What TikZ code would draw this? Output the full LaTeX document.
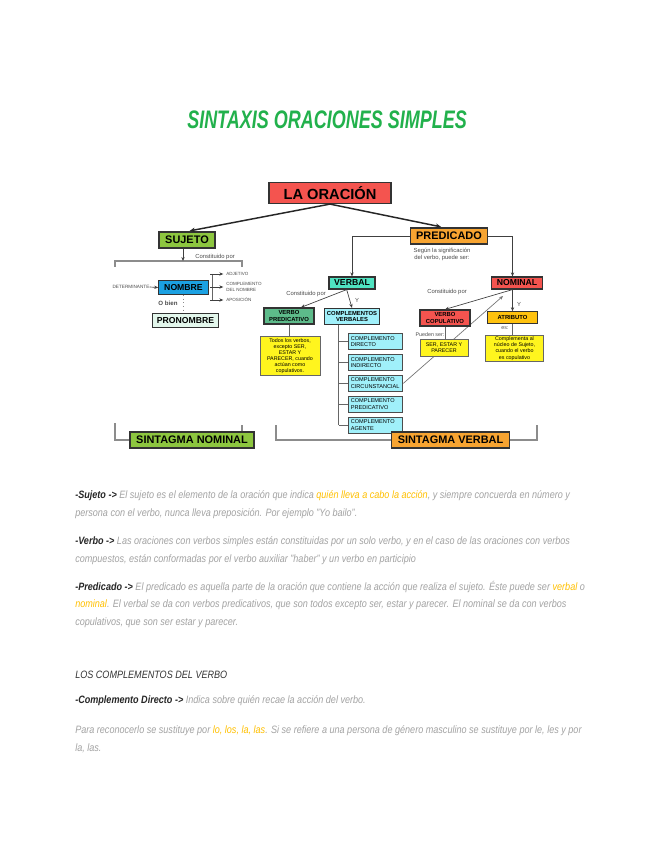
\documentclass[tikz,border=0pt]{standalone}
\usepackage{fontspec}
\setmainfont{Liberation Sans}
\setsansfont{Liberation Sans}
\usepackage{graphicx}
\usepackage{xcolor}
\usetikzlibrary{positioning,arrows.meta,calc,backgrounds}
\definecolor{rojo}{HTML}{F4544F}
\definecolor{naranja}{HTML}{F7A431}
\definecolor{lima}{HTML}{8DC63F}
\definecolor{aqua}{HTML}{4FE3C1}
\definecolor{verdemedio}{HTML}{5DBB8A}
\definecolor{celeste}{HTML}{A0F0FA}
\definecolor{amarillo}{HTML}{FFF51E}
\definecolor{azul}{HTML}{1BA1E2}
\definecolor{dorado}{HTML}{FFC20E}
\definecolor{menta}{HTML}{E3F7EC}
\definecolor{verdetit}{HTML}{22B14C}
\definecolor{gristexto}{HTML}{A3A3A3}
\definecolor{resalte}{HTML}{FFC000}
\newcommand{\tam}[2]{\fontsize{#1}{#2}\selectfont}
\newcommand{\estrecho}[2]{\scalebox{#1}[1]{#2}}
\newcommand{\mano}[1]{\estrecho{0.85}{#1}}
\newcommand{\resalta}[1]{\textcolor{resalte}{#1}}
\newcommand{\cabeza}[1]{\textcolor{black!85}{\bfseries #1}}
\tikzset{
  caja/.style    = {rectangle, draw=black!80, line width=0.9pt, align=center,
                    inner sep=1pt},
  raiz/.style    = {caja, fill=rojo, minimum width=91.5pt, minimum height=15.75pt,
                    font=\bfseries\tam{11}{13}},
  grande/.style  = {caja, minimum height=12pt, font=\bfseries\tam{8.2}{10}},
  medio/.style   = {caja, minimum height=9.5pt, font=\bfseries\tam{6.5}{8}},
  chico/.style   = {caja, minimum height=12pt, font=\bfseries\tam{4.4}{5}},
  comp/.style    = {rectangle, draw=black!70, line width=0.7pt, fill=celeste,
                    align=left, inner sep=1pt, font=\tam{4.2}{5},
                    minimum width=41pt, text width=37pt, minimum height=12pt},
  nota/.style    = {rectangle, draw=black!60, line width=0.6pt, fill=amarillo,
                    align=center, inner sep=1pt, font=\tam{4}{4.6}},
  etiq/.style    = {font=\tam{4.4}{5.2}, text=black!70, align=center, inner sep=0pt},
  titulo/.style  = {font=\bfseries\itshape\tam{19}{22}, text=verdetit, inner sep=0pt},
  parrafo/.style = {anchor=west, inner sep=0pt, text=gristexto, font=\itshape\tam{8}{9.5}},
  flecha/.style  = {-{Stealth[length=3pt,width=2.5pt]}, draw=black!75, line width=0.5pt},
  grueso/.style  = {-{Stealth[length=4pt,width=3.5pt]}, draw=black!85, line width=1.1pt},
  linea/.style   = {draw=black!60, line width=0.6pt},
  llave/.style   = {draw=black!45, line width=0.8pt},
}

\begin{document}
\begin{tikzpicture}[x=0.75pt, y=-0.75pt]
  \useasboundingbox (0,0) rectangle (655,848);

  \node[titulo] (tit) at (327,120) {\estrecho{0.71}{SINTAXIS ORACIONES SIMPLES}};

  % esquema de la oracion
  \node[raiz] (oracion) at (330,193) {LA ORACIÓN};
  \node[grande, fill=lima, minimum width=42pt] (sujeto) at (187,240) {SUJETO};
  \node[grande, fill=naranja, minimum width=58pt] (predicado) at (449,236) {PREDICADO};
  \node[medio, fill=aqua, minimum width=34.5pt, minimum height=9pt] (verbal) at (352,283) {VERBAL};
  \node[medio, fill=rojo, minimum width=38pt, minimum height=9pt] (nominal) at (517,283) {NOMINAL};
  \node[chico, fill=verdemedio, minimum width=37.5pt] (vpred) at (289,316) {VERBO\\PREDICATIVO};
  \node[chico, fill=celeste, minimum width=41pt] (cverb) at (352,316.5) {COMPLEMENTOS\\VERBALES};
  \node[chico, fill=rojo, minimum width=37.5pt] (vcop) at (445,318) {VERBO\\COPULATIVO};
  \node[chico, fill=dorado, minimum width=37pt, minimum height=8.5pt] (atrib) at (512.5,317.5) {ATRIBUTO};

  \node[nota, minimum width=45pt, minimum height=28.5pt] (todos) at (290,356)
    {Todos los verbos,\\excepto SER,\\ESTAR Y\\PARECER, cuando\\actúan como\\copulativos.};
  \node[nota, minimum width=36pt, minimum height=12.75pt] (ser) at (444,347.5) {SER, ESTAR Y\\PARECER};
  \node[nota, minimum width=44pt, minimum height=20pt] (compl) at (514.5,348.5)
    {Complementa al\\núcleo de Sujeto,\\cuando el verbo\\es copulativo};

  \node[comp] (cd) at (375.5,341.5) {COMPLEMENTO\\DIRECTO};
  \node[comp, below=3pt of cd] (ci) {COMPLEMENTO\\INDIRECTO};
  \node[comp, below=3pt of ci] (cc) {COMPLEMENTO\\CIRCUNSTANCIAL};
  \node[comp, below=3pt of cc] (cp) {COMPLEMENTO\\PREDICATIVO};
  \node[comp, below=3pt of cp] (ca) {COMPLEMENTO\\AGENTE};

  \node[medio, fill=azul, minimum width=37pt, minimum height=10pt] (nombre) at (183.5,287.5) {NOMBRE};
  \node[medio, fill=menta, minimum width=50pt, minimum height=10pt] (pronombre) at (185.5,320.5) {PRONOMBRE};
  \node[grande, fill=lima, minimum width=93pt] (sn) at (192,440) {SINTAGMA NOMINAL};
  \node[grande, fill=naranja, minimum width=88pt] (sv) at (450.5,440) {SINTAGMA VERBAL};

  % etiquetas
  \node[etiq] (const1) at (215,257) {Constituido por};
  \node[etiq, font=\tam{3.5}{4}] (det) at (131,287) {DETERMINANTE};
  \node[etiq, anchor=west, align=left, font=\tam{3.4}{3.9}] (adj) at (226,274) {ADJETIVO};
  \node[etiq, anchor=west, align=left, font=\tam{3.4}{3.9}] (cdn) at (226,287) {COMPLEMENTO\\DEL NOMBRE};
  \node[etiq, anchor=west, align=left, font=\tam{3.4}{3.9}] (apos) at (226,300) {APOSICIÓN};
  \node[etiq, font=\bfseries\tam{4.6}{5}] (obien) at (168,303) {O bien};
  \node[etiq] (segun) at (442,254) {Según la significación\\del verbo, puede ser:};
  \node[etiq] (const2) at (306,294) {Constituido por};
  \node[etiq] (y1) at (357,300) {Y};
  \node[etiq] (const3) at (447,292) {Constituido por};
  \node[etiq] (y2) at (519,304) {Y};
  \node[etiq, font=\tam{4}{4.6}] (pueden) at (430,335) {Pueden ser:};
  \node[etiq, font=\tam{4}{4.6}] (es) at (505,328) {es:};

  % conectores
  \draw[grueso, shorten >=2pt] (oracion.south) -- (sujeto.north);
  \draw[grueso, shorten >=2pt] (oracion.south) -- ([xshift=-4pt]predicado.north);
  \draw[flecha] (predicado.west) -| (verbal.north);
  \draw[flecha] (predicado.east) -| (atrib.north |- nominal.north);
  \draw[flecha] ([xshift=-4pt]verbal.south) -- ([xshift=9pt]vpred.north);
  \draw[flecha] ([xshift=-4pt]verbal.south) -- (cverb.north);
  \draw[linea] (vpred.south) -- (vpred.south |- todos.north);
  \coordinate (espina) at ([xshift=11pt]cverb.south west);
  \draw[linea] (espina) -- (espina |- ca.west);
  \foreach \c in {cd,ci,cc,cp,ca}
    \draw[linea] (espina |- \c.west) -- (\c.west);
  \coordinate (nombase) at (atrib.north |- nominal.south);
  \draw[flecha] (nombase) -- (vcop.north);
  \draw[flecha] (nombase) -- (atrib.north);
  \draw[linea] (vcop.south) -- (vcop.south |- ser.north);
  \draw[linea] (atrib.south) -- (atrib.south |- compl.north);

  \coordinate (llaveT) at (183,261);
  \coordinate (llaveI) at (115,267);
  \coordinate (llaveD) at (242,267);
  \draw[llave] (llaveI) -- ++(0,-6) -| (llaveD);
  \draw[flecha] ([xshift=-3pt]sujeto.south) -- ([xshift=-3pt]sujeto.south |- llaveT);
  \draw[flecha] (det.east) -- (nombre.west);
  \coordinate (rama) at (212,287);
  \draw[linea] (rama |- adj.west) -- (rama |- apos.west);
  \foreach \r in {adj,cdn,apos}
    \draw[flecha] ([xshift=-1.5pt]rama |- \r.west) -- ([xshift=-2pt]\r.west);
  \draw[llave, dotted] (nombre.south) -- (nombre.south |- pronombre.north);

  \coordinate (snI) at (115,423);
  \coordinate (snD) at (242,425);
  \coordinate (svI) at (276,425);
  \coordinate (svD) at (537,425);
  \draw[llave] (snI) |- (sn.west);
  \draw[llave] (snD) -- (snD |- sn.north);
  \draw[llave] (svI) |- (sv.west);
  \draw[llave] (sv.east) -| (svD);

  \coordinate (cola) at (503,296);
  \begin{scope}[on background layer]
    \fill[white] (0,0) rectangle (655,848);
    \draw[flecha, draw=black!55] (cc.east) -- (cola);
  \end{scope}

  % texto
  \node[parrafo] (p1) at (75,496) {\mano{\cabeza{-Sujeto ->} El sujeto es el elemento de la oración que indica \resalta{quién lleva a cabo la acción}, y siempre concuerda en número y}};
  \node[parrafo] (p2) at (75,514) {\mano{persona con el verbo, nunca lleva preposición. Por ejemplo "Yo bailo".}};
  \node[parrafo] (p3) at (75,542) {\mano{\cabeza{-Verbo ->} Las oraciones con verbos simples están constituidas por un solo verbo, y en el caso de las oraciones con verbos}};
  \node[parrafo] (p4) at (75,560) {\mano{compuestos, están conformadas por el verbo auxiliar "haber" y un verbo en participio}};
  \node[parrafo] (p5) at (75,587) {\mano{\cabeza{-Predicado ->} El predicado es aquella parte de la oración que contiene la acción que realiza el sujeto. Éste puede ser \resalta{verbal} o}};
  \node[parrafo] (p6) at (75,605) {\mano{\resalta{nominal}. El verbal se da con verbos predicativos, que son todos excepto ser, estar y parecer. El nominal se da con verbos}};
  \node[parrafo] (p7) at (75,623) {\mano{copulativos, que son ser estar y parecer.}};
  \node[parrafo, text=black!80] (p8) at (75,675) {\mano{LOS COMPLEMENTOS DEL VERBO}};
  \node[parrafo] (p9) at (75,701) {\mano{\cabeza{-Complemento Directo ->} Indica sobre quién recae la acción del verbo.}};
  \node[parrafo] (p10) at (75,731) {\mano{Para reconocerlo se sustituye por \resalta{lo, los, la, las}. Si se refiere a una persona de género masculino se sustituye por le, les y por}};
  \node[parrafo] (p11) at (75,748) {\mano{la, las.}};
\end{tikzpicture}
\end{document}
